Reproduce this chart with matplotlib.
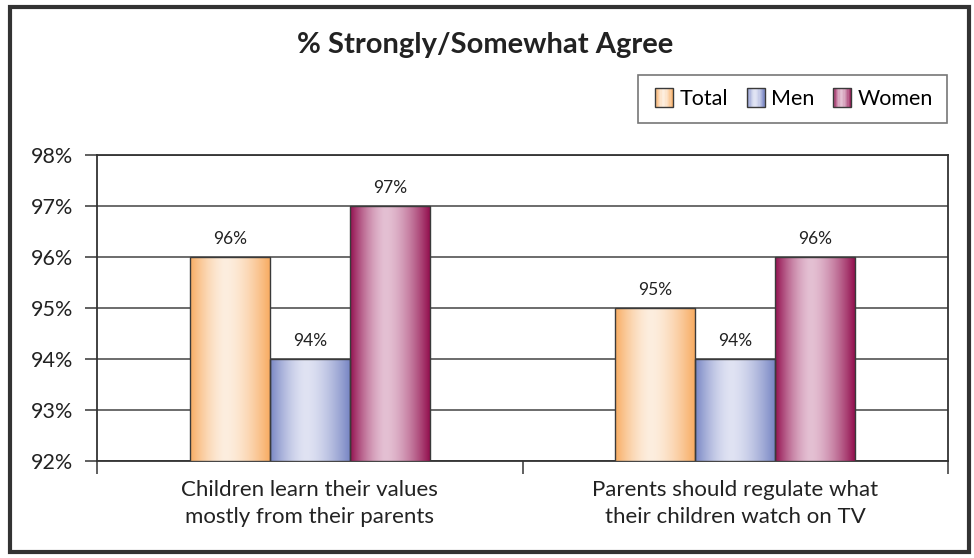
import numpy as np
import matplotlib
matplotlib.use('Agg')
import matplotlib.pyplot as plt
from matplotlib.patches import Rectangle
from matplotlib.legend_handler import HandlerBase
from matplotlib.colors import LinearSegmentedColormap

categories = ['Children learn their values\nmostly from their parents',
              'Parents should regulate what\ntheir children watch on TV']
series = ['Total', 'Men', 'Women']
total = [96, 95]
men = [94, 94]
women = [97, 96]
yticks = [92, 93, 94, 95, 96, 97, 98]

# edge colour, light centre colour for each series
shades = {'Total': ('#F8AC62', '#FDEEDF'),
          'Men': ('#7886C4', '#E0E3F3'),
          'Women': ('#93104F', '#E4C0D3')}

plt.rcParams['font.family'] = ['Lato', 'DejaVu Sans']


def grad_cmap(name):
    edge, light = shades[name]
    return LinearSegmentedColormap.from_list(name, [edge, light], N=256)


# horizontal shading: dark at both edges, lightest a bit left of centre
t = np.linspace(0, 1, 200)
d = np.where(t < 0.45, (0.45 - t) / 0.45, (t - 0.45) / 0.55)
shade = (1 - d ** 1.6).reshape(1, -1)

fig = plt.figure(figsize=(9.74, 5.58), dpi=100)
ax = fig.add_axes([97/974, 1-461/558, (948-97)/974, (461-155)/558])

x = np.arange(len(categories))
w = 0.188
for i, (name, vals) in enumerate(zip(series, [total, men, women])):
    bars = ax.bar(x + (i-1)*w, [v - 92 for v in vals], width=w, bottom=92,
                  facecolor='none', edgecolor='#3a3a3a', linewidth=1.0,
                  zorder=4, label=name)
    for b, v in zip(bars, vals):
        x0, y0 = b.get_x(), b.get_y()
        im = ax.imshow(shade, cmap=grad_cmap(name), vmin=0, vmax=1,
                       aspect='auto', interpolation='bilinear',
                       extent=[x0, x0 + b.get_width(), y0, y0 + b.get_height()],
                       zorder=3)
        im.set_clip_path(b)
        ax.text(b.get_x() + b.get_width()/2, v + 0.2, f'{v}%', ha='center',
                va='bottom', fontsize=12.5, color='#222222')

ax.set_xlim(-0.5, 1.5)
ax.set_ylim(92, 98)
ax.set_yticks(yticks)
ax.set_yticklabels([f'{t}%' for t in yticks], fontsize=15.5, color='#222222')
ax.yaxis.grid(True, color='#444444', linewidth=1.1, zorder=1)
ax.set_axisbelow(True)
ax.set_xticks([-0.5, 0.5, 1.5])
ax.set_xticklabels([])
ax.set_xticks(x, minor=True)
ax.set_xticklabels(categories, minor=True, fontsize=16, color='#222222',
                   linespacing=1.4)
ax.tick_params(axis='x', which='minor', length=0, pad=14)
ax.tick_params(axis='x', which='major', length=9, width=1.2, color='#444444')
ax.tick_params(axis='y', length=9, width=1.2, color='#444444', pad=8)
for s in ax.spines.values():
    s.set_color('#333333')
    s.set_linewidth(1.3)


class GradHandler(HandlerBase):
    def create_artists(self, legend, orig, xd, yd, width, height, fontsize, trans):
        cm = grad_cmap(orig.get_label())
        n = 14
        side = height * 1.2
        x0 = xd + width - side
        y0 = yd - (side - height) / 2
        arts = []
        for k in range(n):
            tt = (k + 0.5) / n
            dd = (0.45 - tt) / 0.45 if tt < 0.45 else (tt - 0.45) / 0.55
            arts.append(Rectangle((x0 + k*side/n, y0), side/n + 0.3, side,
                                  facecolor=cm(1 - dd ** 1.6), edgecolor='none',
                                  transform=trans))
        arts.append(Rectangle((x0, y0), side, side, facecolor='none',
                              edgecolor='#3a3a3a', linewidth=1.0,
                              transform=trans))
        return arts


handles = [ax.containers[i].patches[0] for i in range(3)]
for h, name in zip(handles, series):
    h.set_label(name)
leg = fig.legend(handles, series, loc='upper right',
                 bbox_to_anchor=(947/974, 1-75/558), ncol=3, fontsize=15.5,
                 frameon=True, fancybox=False, borderpad=0.65,
                 handler_map={h: GradHandler() for h in handles},
                 handlelength=1.0, handletextpad=0.3, columnspacing=0.7,
                 borderaxespad=0)
leg.get_frame().set_edgecolor('#555555')
leg.get_frame().set_linewidth(1.2)

fig.text(485/974, 1-45/558, '% Strongly/Somewhat Agree', ha='center',
         va='center', fontsize=21, fontweight='bold', color='#222222')

fig.patches.append(Rectangle((10/974, 6/558), 959/974, 545/558,
                             transform=fig.transFigure, facecolor='none',
                             edgecolor='#333333', linewidth=3, zorder=0))

fig.savefig('out.png', dpi=100)
